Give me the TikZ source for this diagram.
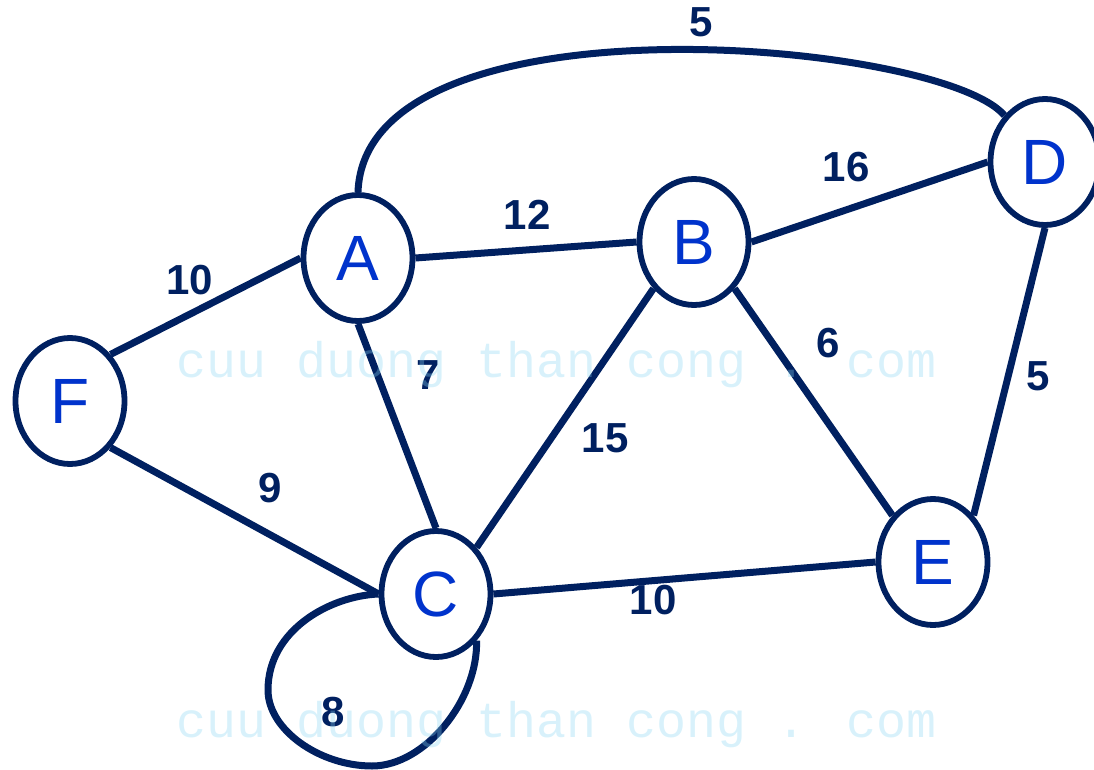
\documentclass[tikz,border=0pt]{standalone}
\usepackage{fontspec}
\setmainfont{Liberation Sans}
\newfontfamily\wmfont{Liberation Mono}
\usetikzlibrary{shapes.geometric}
\definecolor{navy}{RGB}{0,32,96}
\definecolor{nodeblue}{RGB}{0,51,204}
\definecolor{wmcol}{rgb}{0.54,0.84,0.95}
\begin{document}
\begin{tikzpicture}[x=1pt,y=-1pt,
  vertex/.style={ellipse, draw=navy, line width=5.8pt, fill=white,
    minimum width=109pt, minimum height=126pt, inner sep=0pt,
    text=nodeblue, font=\fontsize{64}{64}\selectfont},
  edge/.style={draw=navy, line width=7pt},
  weight/.style={text=navy, inner sep=0pt,
    font=\fontsize{42}{42}\selectfont\bfseries},
  watermark/.style={text=wmcol, opacity=0.33, anchor=base west, inner sep=0pt,
    font=\wmfont\fontsize{50}{50}\selectfont}]
\useasboundingbox (0,0) rectangle (1094,770);

% vertices
\node[vertex] (A) at (358,258) {A};
\node[vertex] (B) at (694,242) {B};
\node[vertex] (C) at (436,594) {C};
\node[vertex] (D) at (1045,162) {D};
\node[vertex] (E) at (933,562) {E};
\node[vertex] (F) at (70,401) {F};

% edges
\draw[edge] (A.east) -- (B.west);
\draw[edge] (B.east) -- (D.west);
\draw[edge] (A.north) .. controls (365,-10) and (940,40) .. (D.north west);
\draw[edge] (F.north east) -- (A.west);
\draw[edge] (F.south east) -- (C.west);
\draw[edge] (A.south) -- (C.north);
\draw[edge] (C.north east) -- (B.south west);
\draw[edge] (B.south east) -- (E.north west);
\draw[edge] (D.south) -- (E.north east);
\draw[edge] (C.east) -- (E.west);
\draw[edge] (C.west) .. controls (330,596) and (268,630) .. (268,690)
  .. controls (268,730) and (320,766) .. (372,766)
  .. controls (425,766) and (478,700) .. (C.south east);

% weights
\node[weight] (wAD) at (701,22) {5};
\node[weight] (wBD) at (846,167) {16};
\node[weight] (wAB) at (527,215) {12};
\node[weight] (wFA) at (190,280) {10};
\node[weight] (wAC) at (428,375) {7};
\node[weight] (wBE) at (828,343) {6};
\node[weight] (wDE) at (1038,376) {5};
\node[weight] (wCB) at (605,438) {15};
\node[weight] (wFC) at (270,488) {9};
\node[weight] (wCE) at (653,600) {10};
\node[weight] (wCC) at (333,712) {8};

% watermark
\node[watermark] (wm1) at (176,377) {cuu duong than cong . com};
\node[watermark] (wm2) at (176,737) {cuu duong than cong . com};
\end{tikzpicture}
\end{document}
